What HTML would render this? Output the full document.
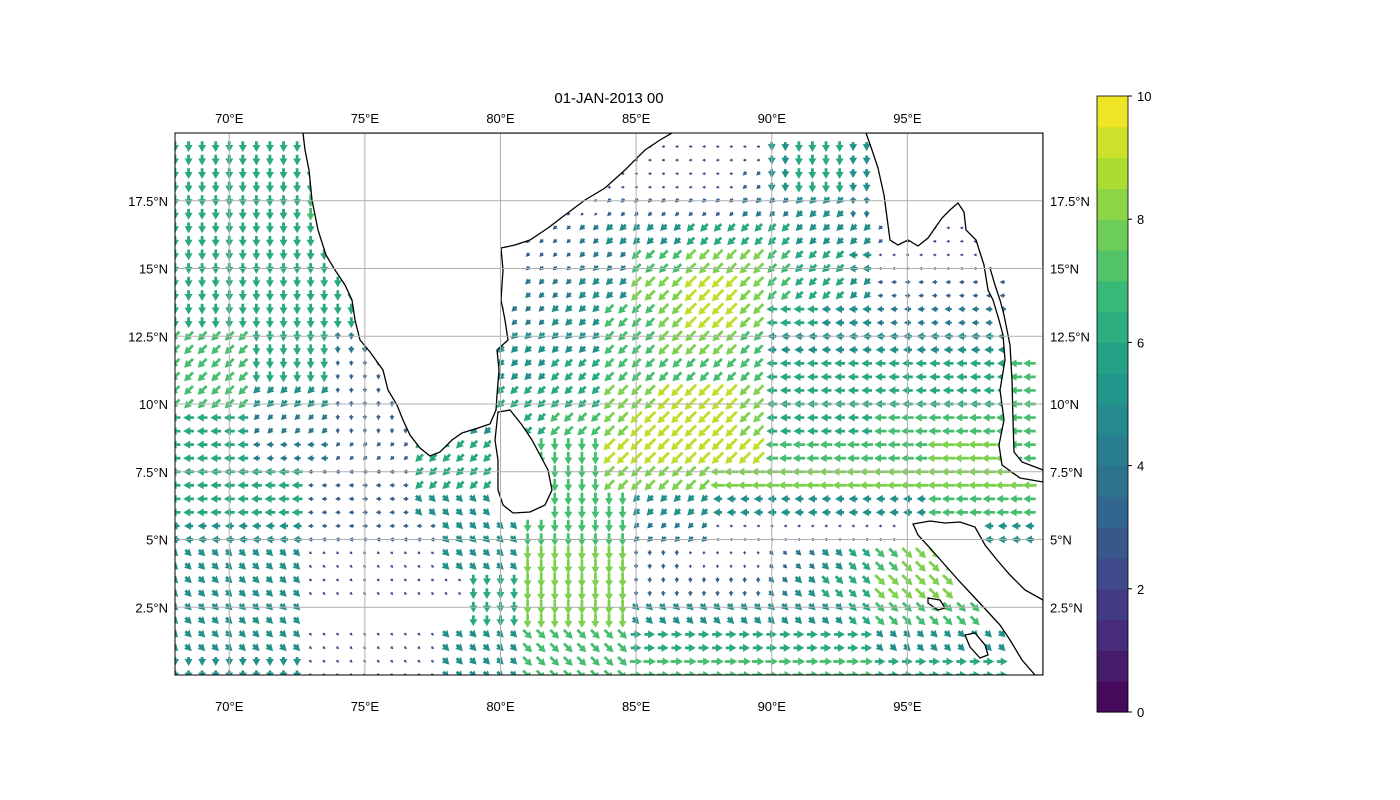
<!DOCTYPE html>
<html><head><meta charset="utf-8">
<style>
html,body{margin:0;padding:0;background:#fff;}
svg{display:block;font-family:"Liberation Sans","DejaVu Sans",sans-serif;}
</style></head>
<body>
<svg id="chart" width="1400" height="800" viewBox="0 0 1400 800">
<rect width="1400" height="800" fill="#fff"/>
<text x="609" y="103" font-size="15" text-anchor="middle">01-JAN-2013 00</text>
<defs><clipPath id="clip"><rect x="175" y="133" width="868" height="542"/></clipPath></defs>
<g id="arrows" clip-path="url(#clip)"></g>
<g id="land" clip-path="url(#clip)"></g>
<g id="grid"></g>
<rect x="175" y="133" width="868" height="542" fill="none" stroke="#000" stroke-width="1"/>
<g id="ticks"></g>
<g id="cbar"></g>
</svg>
<script>
// lon 68..100 (33 columns), lat rows from 20 down to 0
// direction codes (keypad): 8=N 9=NE 6=E 3=SE 2=S 1=SW 4=W 7=NW 5=calm/land
const lons = [68,69,70,71,72,73,74,75,76,77,78,79,80,81,82,83,84,85,86,87,88,89,90,91,92,93,94,95,96,97,98,99,100];
const lats = [20,19,18,17,16,15,14,13,12,11,10,9,8,7,6,5,4,3,2,1,0];
const windDir = [
"22222"+"5555555555555"+"4444"+"222"+"55555555",
"222222"+"55555555555"+"44444"+"222"+"2"+"5555555",
"222222"+"555555555"+"444444"+"1"+"222"+"2"+"5555555",
"222222"+"55555555"+"1111111"+"1111"+"2"+"5555555",
"222222"+"2"+"555555"+"11111111"+"11111"+"1"+"444"+"555",
"2222222"+"555555"+"1111"+"11111"+"111"+"4"+"44444"+"55",
"2222222"+"555555"+"1111"+"11111"+"1111"+"44444"+"55",
"22222"+"22"+"55555"+"1111"+"111111"+"4444"+"44444"+"5"+"4",
"111"+"222"+"22"+"5555"+"1111"+"111111"+"4444"+"44444"+"5"+"4",
"111"+"222"+"222"+"555"+"1111"+"111111"+"444444444"+"44",
"111"+"111"+"222"+"555"+"1111"+"111111"+"444444444"+"44",
"444"+"111"+"222"+"55"+"1"+"5"+"111"+"111111"+"444444444"+"44",
"444"+"444"+"111"+"111"+"5"+"222"+"111111"+"444444"+"444"+"44",
"44444"+"4444"+"111"+"55"+"22"+"1111"+"444444"+"444444"+"4",
"44444"+"4444"+"333"+"55"+"222"+"111"+"44444444"+"44444",
"44444"+"44444"+"333"+"2222"+"111"+"4444444"+"555"+"444",
"33333"+"33333"+"333"+"2222"+"22222"+"3333"+"333"+"5555",
"33333"+"333333"+"22"+"2222"+"22222"+"3333"+"333"+"5555",
"33333"+"555555"+"22"+"2222"+"33333"+"3333"+"3333"+"555",
"33333"+"33333"+"333"+"3333"+"66666"+"6666"+"33333"+"55",
"22222"+"33333"+"333"+"3333"+"66666"+"6666"+"66666"+"55"
];
const windSpeed = [
"66666"+"0000000000000"+"1111"+"566"+"00000000",
"666666"+"00000000000"+"22222"+"566"+"5"+"0000000",
"666666"+"000000000"+"222222"+"3"+"566"+"5"+"0000000",
"666667"+"00000000"+"2233333"+"4455"+"4"+"0000000",
"666666"+"7"+"000000"+"33455566"+"66555"+"3"+"222"+"000",
"6666666"+"000000"+"3344"+"77888"+"766"+"5"+"22222"+"00",
"6666666"+"000000"+"4455"+"88998"+"7665"+"33333"+"00",
"66666"+"66"+"00000"+"4455"+"778998"+"6655"+"44444"+"0"+"5",
"777"+"666"+"44"+"0000"+"5555"+"778887"+"5555"+"55555"+"0"+"6",
"777"+"666"+"333"+"000"+"5566"+"777777"+"666666666"+"77",
"777"+"555"+"333"+"000"+"6666"+"889998"+"666666666"+"77",
"666"+"444"+"333"+"00"+"5"+"0"+"677"+"899998"+"666677777"+"77",
"666"+"444"+"333"+"666"+"0"+"777"+"999999"+"777777"+"888"+"77",
"66666"+"3333"+"666"+"00"+"77"+"8888"+"888888"+"888888"+"7",
"66666"+"3333"+"555"+"00"+"777"+"555"+"55555555"+"77777",
"55555"+"33333"+"555"+"7777"+"444"+"2222222"+"000"+"555",
"55555"+"22222"+"555"+"8888"+"33222"+"3456"+"788"+"0000",
"55555"+"222222"+"66"+"8888"+"33333"+"4566"+"888"+"0000",
"55555"+"111111"+"66"+"8888"+"55555"+"5556"+"7777"+"000",
"55555"+"22222"+"555"+"7777"+"66666"+"6666"+"55555"+"00",
"55555"+"22222"+"555"+"7777"+"77777"+"7777"+"66666"+"00"
];
const lonTicks = [70,75,80,85,90,95];
const lonTickLabels = ["70°E","75°E","80°E","85°E","90°E","95°E"];
const latTicks = [2.5,5,7.5,10,12.5,15,17.5];
const latTickLabels = ["2.5°N","5°N","7.5°N","10°N","12.5°N","15°N","17.5°N"];
const cbarTicks = [0,2,4,6,8,10];

const NS="http://www.w3.org/2000/svg";
const X0=175,X1=1043,Y0=675,Y1=133;
function xs(lon){return X0+(lon-68)/32*(X1-X0);}
function ys(lat){return Y0-(lat)/20*(Y0-Y1);}
const vir=["#440154","#482878","#3e4989","#31688e","#26828e","#1f9e89","#35b779","#6ece58","#b5de2b","#fde725"];
function hex(h){return [parseInt(h.slice(1,3),16),parseInt(h.slice(3,5),16),parseInt(h.slice(5,7),16)];}
function cmap(t){t=Math.max(0,Math.min(1,t));const p=t*(vir.length-1);const i=Math.min(vir.length-2,Math.floor(p));const f=p-i;const a=hex(vir[i]),b=hex(vir[i+1]);return "rgb("+a.map((v,k)=>Math.round(v+(b[k]-v)*f)).join(",")+")";}
const dirs={"8":[0,-1],"9":[.707,-.707],"6":[1,0],"3":[.707,.707],"2":[0,1],"1":[-.707,.707],"4":[-1,0],"7":[-.707,-.707]};
const ag=document.getElementById("arrows");
function arrow(x,y,d,s){
  const L=s*1.8; if(L<=0)return;
  const ux=d[0],uy=d[1],px=-uy,py=ux;
  let sw=1.4,hw=4,hl=7;
  if(L<hl*1.3){const k=L/(hl*1.3);sw*=k;hw*=k;hl*=k;}
  const tx=x-ux*L*0.5,ty=y-uy*L*0.5,hx=x+ux*L*0.5,hy=y+uy*L*0.5,bx=hx-ux*hl,by=hy-uy*hl;
  const pts=[[tx+px*sw,ty+py*sw],[bx+px*sw,by+py*sw],[bx+px*hw,by+py*hw],[hx,hy],[bx-px*hw,by-py*hw],[bx-px*sw,by-py*sw],[tx-px*sw,ty-py*sw]];
  const p=document.createElementNS(NS,"polygon");
  p.setAttribute("points",pts.map(q=>q[0].toFixed(1)+","+q[1].toFixed(1)).join(" "));
  p.setAttribute("fill",cmap(s/10));
  
  
  ag.appendChild(p);
}
lats.forEach((lat,r)=>{
  lons.forEach((lon,c)=>{
    const dc=windDir[r][c]||"5", s=+(windSpeed[r][c]||0);
    if(dc==="5"||!s)return;
    const d=dirs[dc];
    [[0,0],[0.5,0],[0,0.5],[0.5,0.5]].forEach(o=>{
      const lo=lon+o[0],la=lat+o[1];
      if(lo>=100||la>=20)return;
      arrow(xs(lo),ys(la),d,s);
    });
  });
});
// land polygons (pixel geometry)
const landShapes=[
 [[303,133],[305,150],[309,170],[312,200],[318,230],[326,255],[335,270],[345,285],[352,300],[355,320],[360,340],[370,352],[383,370],[388,390],[397,405],[403,420],[410,435],[420,448],[430,456],[440,452],[452,440],[462,433],[478,428],[490,424],[496,410],[497,395],[499,370],[497,350],[508,340],[505,320],[501,300],[503,270],[501,248],[515,245],[530,240],[548,228],[565,215],[585,200],[605,188],[625,170],[645,150],[660,140],[672,133]],
 [[498,412],[510,410],[522,425],[532,440],[540,455],[548,470],[552,490],[545,505],[530,512],[513,513],[503,505],[498,490],[498,460],[495,440]],
 [[866,133],[872,150],[878,168],[884,195],[888,225],[890,240],[898,245],[908,240],[918,246],[928,238],[935,228],[942,218],[950,210],[958,203],[964,212],[966,230],[976,240],[984,265],[988,290],[993,300],[999,320],[1003,335],[1005,360],[1000,390],[1004,420],[999,445],[1002,465],[1020,478],[1043,482],[1043,470],[1022,462],[1014,452],[1013,420],[1012,380],[1010,345],[1004,315],[1000,300],[995,285],[990,268],[1043,268],[1043,133]],
 [[913,524],[930,521],[945,523],[960,522],[975,527],[985,545],[997,560],[1010,575],[1025,590],[1043,600],[1043,675],[1035,675],[1022,660],[1010,640],[1000,625],[988,612],[975,598],[960,582],[945,565],[930,548],[918,535]],
 [[928,598],[940,600],[945,608],[938,610],[928,603]],
 [[965,635],[975,633],[985,645],[988,655],[980,658],[970,647]]
];
const lg=document.getElementById("land");
landShapes.forEach((sh,i)=>{
  const p=document.createElementNS(NS,"polygon");
  p.setAttribute("points",sh.map(q=>q.join(",")).join(" "));
  p.setAttribute("fill","#fff");p.setAttribute("stroke","#000");p.setAttribute("stroke-width","1.3");
  
  
  lg.appendChild(p);
});
// hide the artificial closing edge on the right landmass
const cover=document.createElementNS(NS,"rect");
cover.setAttribute("x",991.5);cover.setAttribute("y",266);cover.setAttribute("width",52);cover.setAttribute("height",4);cover.setAttribute("fill","#fff");


lg.appendChild(cover);
// grid and ticks
const gg=document.getElementById("grid"),tg=document.getElementById("ticks");
function line(g,x1,y1,x2,y2,st,w){const l=document.createElementNS(NS,"line");l.setAttribute("x1",x1);l.setAttribute("y1",y1);l.setAttribute("x2",x2);l.setAttribute("y2",y2);l.setAttribute("stroke",st);l.setAttribute("stroke-width",w);g.appendChild(l);return l;}
function text(g,x,y,s,anchor,size){const t=document.createElementNS(NS,"text");t.setAttribute("x",x);t.setAttribute("y",y);t.setAttribute("text-anchor",anchor);t.setAttribute("font-size",size||13);t.textContent=s;g.appendChild(t);return t;}
lonTicks.forEach((v,i)=>{
  const x=xs(v);
  const l=line(gg,x,Y1,x,Y0,"#b0b0b0",1);
  
  
  const a=text(tg,x,123,lonTickLabels[i],"middle");
  
  
  const b=text(tg,x,711,lonTickLabels[i],"middle");
  
  
});
latTicks.forEach((v,i)=>{
  const y=ys(v);
  const l=line(gg,X0,y,X1,y,"#b0b0b0",1);
  
  
  const a=text(tg,168,y+5,latTickLabels[i],"end");
  
  
  const b=text(tg,1050,y+5,latTickLabels[i],"start");
  
  
});
// colorbar
const cg=document.getElementById("cbar");
const CX=1097,CW=31,CT=96,CB=712,N=20;
for(let i=0;i<N;i++){
  const r=document.createElementNS(NS,"rect");
  const h=(CB-CT)/N;
  r.setAttribute("x",CX);r.setAttribute("y",(CB-(i+1)*h).toFixed(2));r.setAttribute("width",CW);r.setAttribute("height",(h+0.6).toFixed(2));
  r.setAttribute("fill",cmap((i+0.5)/N));
  
  
  cg.appendChild(r);
}
const fr=document.createElementNS(NS,"rect");
fr.setAttribute("x",CX);fr.setAttribute("y",CT);fr.setAttribute("width",CW);fr.setAttribute("height",CB-CT);fr.setAttribute("fill","none");fr.setAttribute("stroke","#000");fr.setAttribute("stroke-width","0.8");


cg.appendChild(fr);
cbarTicks.forEach(v=>{
  const y=CB-(v/10)*(CB-CT);
  const l=line(cg,CX+CW,y,CX+CW+4,y,"#000",1);
  
  
  const t=text(cg,CX+CW+9,y+5,String(v),"start");
  
  
});
</script>
</body></html>
